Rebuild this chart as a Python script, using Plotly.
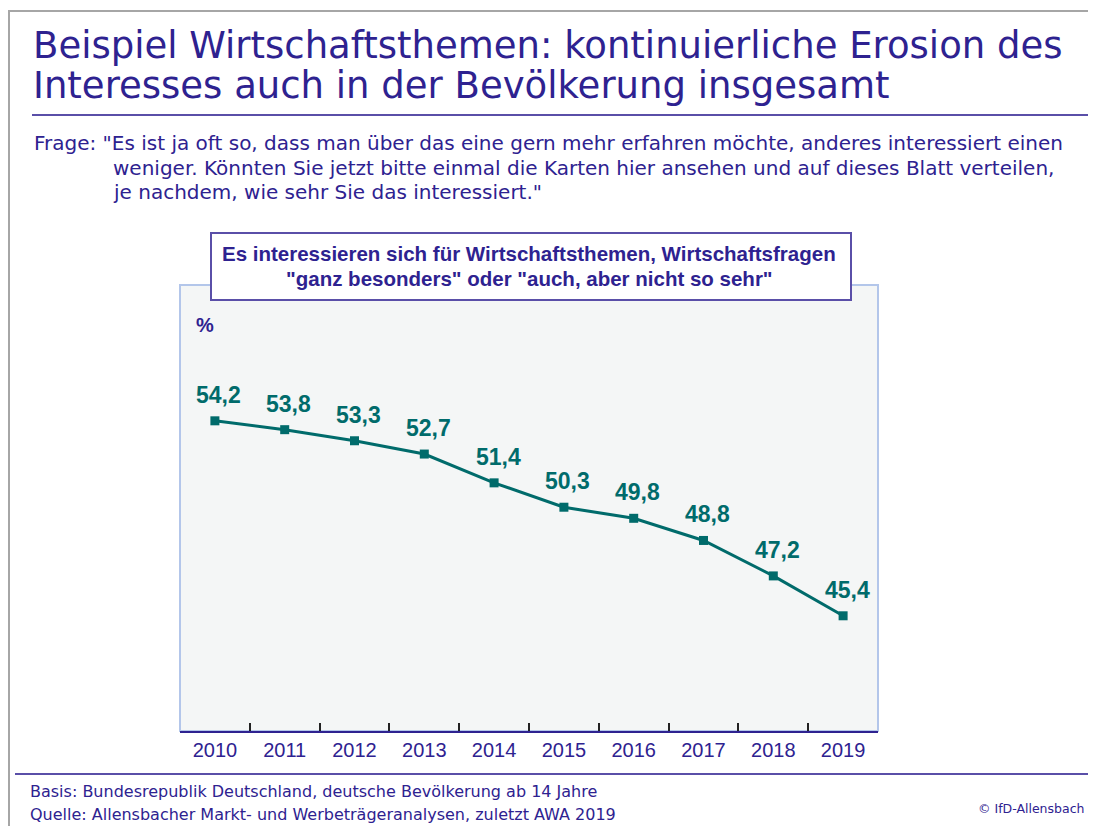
import plotly.graph_objects as go

years = ["2010", "2011", "2012", "2013", "2014", "2015", "2016", "2017", "2018", "2019"]
values = [54.2, 53.8, 53.3, 52.7, 51.4, 50.3, 49.8, 48.8, 47.2, 45.4]

title_lines = ["Beispiel Wirtschaftsthemen: kontinuierliche Erosion des",
               "Interesses auch in der Bevölkerung insgesamt"]
question_lines = ['Frage: "Es ist ja oft so, dass man über das eine gern mehr erfahren möchte, anderes interessiert einen',
                  'weniger. Könnten Sie jetzt bitte einmal die Karten hier ansehen und auf dieses Blatt verteilen,',
                  'je nachdem, wie sehr Sie das interessiert."']
box_lines = ["Es interessieren sich für Wirtschaftsthemen, Wirtschaftsfragen",
             '"ganz besonders" oder "auch, aber nicht so sehr"']
footer_lines = ["Basis: Bundesrepublik Deutschland, deutsche Bevölkerung ab 14 Jahre",
                "Quelle: Allensbacher Markt- und Werbeträgeranalysen, zuletzt AWA 2019"]
copyright_text = "© IfD-Allensbach"

OFF = 8  # page body margin
W, H = 1096 - OFF, 826 - OFF
L, R, T, B = 180, 878, 285, 731  # plot area in page pixels
INDIGO = "#2e2290"
TEAL = "#006b6b"
FONT = "Liberation Sans"
FONT2 = "DejaVu Sans"


def px(x):
    return (x - L) / (R - L)


def py(y):
    return (B - y) / (B - T)


labels = [f"{v:.1f}".replace(".", ",") for v in values]

fig = go.Figure()
fig.add_trace(go.Scatter(
    x=years, y=values, mode="lines+markers",
    line=dict(color=TEAL, width=3),
    marker=dict(symbol="square", size=9, color=TEAL),
    hoverinfo="skip", showlegend=False,
))

ann = []
for i, (v, lab) in enumerate(zip(values, labels)):
    ann.append(dict(x=i, y=v, xref="x", yref="y", text=f"<b>{lab}</b>", showarrow=False,
                    xanchor="center", yanchor="middle", yshift=26, xshift=4,
                    font=dict(family=FONT, size=23, color=TEAL)))

title_y = [45, 86]
for t, yy in zip(title_lines, title_y):
    ann.append(dict(x=px(31), y=py(yy), xref="paper", yref="paper", text=t, showarrow=False,
                    xanchor="left", yanchor="middle",
                    font=dict(family=FONT2, size=37, color=INDIGO)))

q_y = [143, 168, 192]
q_x = [32, 111, 111]
for t, xx, yy in zip(question_lines, q_x, q_y):
    ann.append(dict(x=px(xx), y=py(yy), xref="paper", yref="paper", text=t, showarrow=False,
                    xanchor="left", yanchor="middle",
                    font=dict(family=FONT2, size=20, color=INDIGO)))

box_y = [254, 278]
for t, yy in zip(box_lines, box_y):
    ann.append(dict(x=px(529), y=py(yy), xref="paper", yref="paper", text=f"<b>{t}</b>", showarrow=False,
                    xanchor="center", yanchor="middle",
                    font=dict(family=FONT, size=20.5, color=INDIGO)))

ann.append(dict(x=px(194), y=py(325), xref="paper", yref="paper", text="<b>%</b>", showarrow=False,
                xanchor="left", yanchor="middle", font=dict(family=FONT, size=20, color=INDIGO)))

foot_y = [791, 814]
for t, yy in zip(footer_lines, foot_y):
    ann.append(dict(x=px(28), y=py(yy), xref="paper", yref="paper", text=t, showarrow=False,
                    xanchor="left", yanchor="middle",
                    font=dict(family=FONT2, size=16, color=INDIGO)))
ann.append(dict(x=px(1086), y=py(808), xref="paper", yref="paper", text=copyright_text, showarrow=False,
                xanchor="right", yanchor="middle", font=dict(family=FONT2, size=12.5, color=INDIGO)))

shapes = [
    # outer frame
    dict(type="rect", xref="paper", yref="paper", x0=px(9), x1=px(1120), y0=py(11), y1=py(850),
         line=dict(color="#a6a6a6", width=2), fillcolor="rgba(0,0,0,0)", layer="below"),
    # title rule
    dict(type="line", xref="paper", yref="paper", x0=px(32), x1=px(1110), y0=py(115), y1=py(115),
         line=dict(color="#5a4fa8", width=2)),
    # footer rule
    dict(type="line", xref="paper", yref="paper", x0=px(15), x1=px(1110), y0=py(774), y1=py(774),
         line=dict(color="#5a4fa8", width=2)),
    # plot border
    dict(type="rect", xref="paper", yref="paper", x0=0, x1=1, y0=0, y1=1,
         line=dict(color="#b3c6ea", width=2), fillcolor="rgba(0,0,0,0)", layer="below"),
    # subtitle box
    dict(type="rect", xref="paper", yref="paper", x0=px(211), x1=px(851), y0=py(300), y1=py(233),
         line=dict(color="#5a4fa8", width=2), fillcolor="white", layer="above"),
]

fig.update_layout(
    width=W, height=H,
    margin=dict(l=L - OFF, r=(W + OFF) - R, t=T - OFF, b=(H + OFF) - B),
    paper_bgcolor="white", plot_bgcolor="#f4f6f6",
    annotations=ann, shapes=shapes,
    xaxis=dict(type="category", showgrid=False, showline=True, linecolor=INDIGO, linewidth=2,
               ticks="inside", tickson="boundaries", ticklen=8, tickwidth=2, tickcolor="#222222",
               tickfont=dict(family=FONT, size=20, color=INDIGO), range=[-0.5, 9.5], zeroline=False,
               fixedrange=True),
    yaxis=dict(range=[40.2, 60.33], showgrid=False, showticklabels=False, zeroline=False,
               showline=False, ticks="", fixedrange=True),
)

fig.write_html("out.html")
